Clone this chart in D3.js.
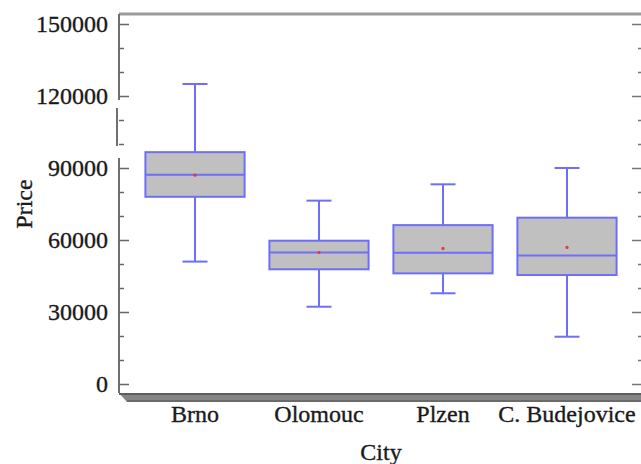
<!DOCTYPE html>
<html>
<head>
<meta charset="utf-8">
<script src="https://cdn.jsdelivr.net/npm/d3@7"></script>
<style>
  html, body { margin: 0; padding: 0; background: #fff; }
  svg { display: block; }
  text { font-family: "Liberation Serif", "DejaVu Serif", serif; fill: #1a1a1a; stroke: #1a1a1a; stroke-width: 0.35px; }
</style>
</head>
<body>
<svg id="chart" width="641" height="464"></svg>
<script>
// ---- data ----
const cities = ["Brno", "Olomouc", "Plzen", "C. Budejovice"];
const whiskerLow  = [51000, 32200, 37800, 19700];
const q1          = [78000, 47800, 46100, 45400];
const medians     = [87200, 54800, 54700, 53500];
const q3          = [96600, 59700, 66200, 69300];
const whiskerHigh = [125000, 76400, 83200, 90000];
const means       = [87000, 54800, 56500, 56900];
const majorTicks  = [0, 30000, 60000, 90000, 120000, 150000];
const minorTicks  = [10000, 20000, 40000, 50000, 70000, 80000, 100000, 110000, 130000, 140000];
const yLabel = "Price";
const xLabel = "City";

// ---- layout ----
const svg = d3.select("#chart");
const plotLeft = 119, plotRight = 642, plotTop = 14, floorY = 393;
const y = d3.scaleLinear().domain([0, 150000]).range([384, 24]);
const x = d3.scaleBand().domain(cities).range([133, 629]).padding(0);
const boxW = x.bandwidth() * 0.8;
const capW = 25;
const blue = "#6e6ef8";

// top frame line
svg.append("line").attr("x1", plotLeft).attr("x2", 641).attr("y1", plotTop).attr("y2", plotTop)
  .attr("stroke", "#9a9a9a").attr("stroke-width", 3);

// left axis line (with the small break artefacts of the original)
const axisSegs = [[y.invert(plotTop), 118300, 0], [115000, 99200, -2], [94200, y.invert(floorY), 0]];
axisSegs.forEach(s => {
  svg.append("line").attr("x1", plotLeft + s[2]).attr("x2", plotLeft + s[2])
    .attr("y1", y(s[0])).attr("y2", y(s[1]))
    .attr("stroke", "#707070").attr("stroke-width", 2);
});

// left ticks
const axisL = d3.axisRight(y).tickValues(majorTicks).tickSize(10).tickFormat("");
const gL = svg.append("g").attr("transform", `translate(${plotLeft},0)`).call(axisL);
gL.select(".domain").remove();
gL.selectAll(".tick line").attr("stroke", "#666").attr("stroke-width", 1.5);
const axisLm = d3.axisRight(y).tickValues(minorTicks).tickSize(5).tickFormat("");
const gLm = svg.append("g").attr("transform", `translate(${plotLeft},0)`).call(axisLm);
gLm.select(".domain").remove();
gLm.selectAll(".tick line").attr("stroke", "#666").attr("stroke-width", 1.5);

// right ticks
const axisR = d3.axisLeft(y).tickValues(majorTicks).tickSize(10).tickFormat("");
const gR = svg.append("g").attr("transform", `translate(${plotRight},0)`).call(axisR);
gR.select(".domain").remove();
gR.selectAll(".tick line").attr("stroke", "#777").attr("stroke-width", 1.5);
const axisRm = d3.axisLeft(y).tickValues(minorTicks).tickSize(4).tickFormat("");
const gRm = svg.append("g").attr("transform", `translate(${plotRight},0)`).call(axisRm);
gRm.select(".domain").remove();
gRm.selectAll(".tick line").attr("stroke", "#777").attr("stroke-width", 1.5);

// y tick labels
svg.append("g").selectAll("text").data(majorTicks).join("text")
  .attr("x", 108).attr("y", d => y(d) + 8)
  .attr("text-anchor", "end").attr("font-size", 24)
  .text(d => d);

// floor (3D base)
svg.append("polygon")
  .attr("points", `${plotLeft},${floorY} 641,${floorY} 641,${floorY + 9} ${plotLeft + 8},${floorY + 9}`)
  .attr("fill", "#858585");
svg.append("line").attr("x1", plotLeft).attr("x2", 641).attr("y1", floorY + 1).attr("y2", floorY + 1)
  .attr("stroke", "#5e5e5e").attr("stroke-width", 2);
svg.append("line").attr("x1", plotLeft + 8).attr("x2", 641).attr("y1", floorY + 8).attr("y2", floorY + 8)
  .attr("stroke", "#6a6a6a").attr("stroke-width", 2);

// boxes
const data = cities.map((c, i) => ({
  c, lo: whiskerLow[i], q1: q1[i], med: medians[i], q3: q3[i], hi: whiskerHigh[i], mean: means[i]
}));
const g = svg.append("g").selectAll("g").data(data).join("g")
  .attr("transform", d => `translate(${x(d.c) + x.bandwidth() / 2},0)`);

g.append("line").attr("x1", 0).attr("x2", 0).attr("y1", d => y(d.hi)).attr("y2", d => y(d.q3))
  .attr("stroke", blue).attr("stroke-width", 2);
g.append("line").attr("x1", 0).attr("x2", 0).attr("y1", d => y(d.q1)).attr("y2", d => y(d.lo))
  .attr("stroke", blue).attr("stroke-width", 2);
g.append("line").attr("x1", -capW / 2).attr("x2", capW / 2).attr("y1", d => y(d.hi)).attr("y2", d => y(d.hi))
  .attr("stroke", blue).attr("stroke-width", 2);
g.append("line").attr("x1", -capW / 2).attr("x2", capW / 2).attr("y1", d => y(d.lo)).attr("y2", d => y(d.lo))
  .attr("stroke", blue).attr("stroke-width", 2);
g.append("rect").attr("x", -boxW / 2).attr("width", boxW)
  .attr("y", d => y(d.q3)).attr("height", d => y(d.q1) - y(d.q3))
  .attr("fill", "#c0c0c0").attr("stroke", blue).attr("stroke-width", 2);
g.append("line").attr("x1", -boxW / 2).attr("x2", boxW / 2).attr("y1", d => y(d.med)).attr("y2", d => y(d.med))
  .attr("stroke", blue).attr("stroke-width", 2);
g.append("circle").attr("cx", 0).attr("cy", d => y(d.mean)).attr("r", 1.6).attr("fill", "#e03a3a");

// category labels
svg.append("g").selectAll("text").data(cities).join("text")
  .attr("x", d => x(d) + x.bandwidth() / 2).attr("y", 422)
  .attr("text-anchor", "middle").attr("font-size", 24)
  .text(d => d);

// axis titles
svg.append("text").attr("x", 381).attr("y", 460).attr("text-anchor", "middle")
  .attr("font-size", 24).text(xLabel);
svg.append("text").attr("transform", "translate(32,204) rotate(-90)")
  .attr("text-anchor", "middle").attr("font-size", 24).text(yLabel);
</script>
</body>
</html>
